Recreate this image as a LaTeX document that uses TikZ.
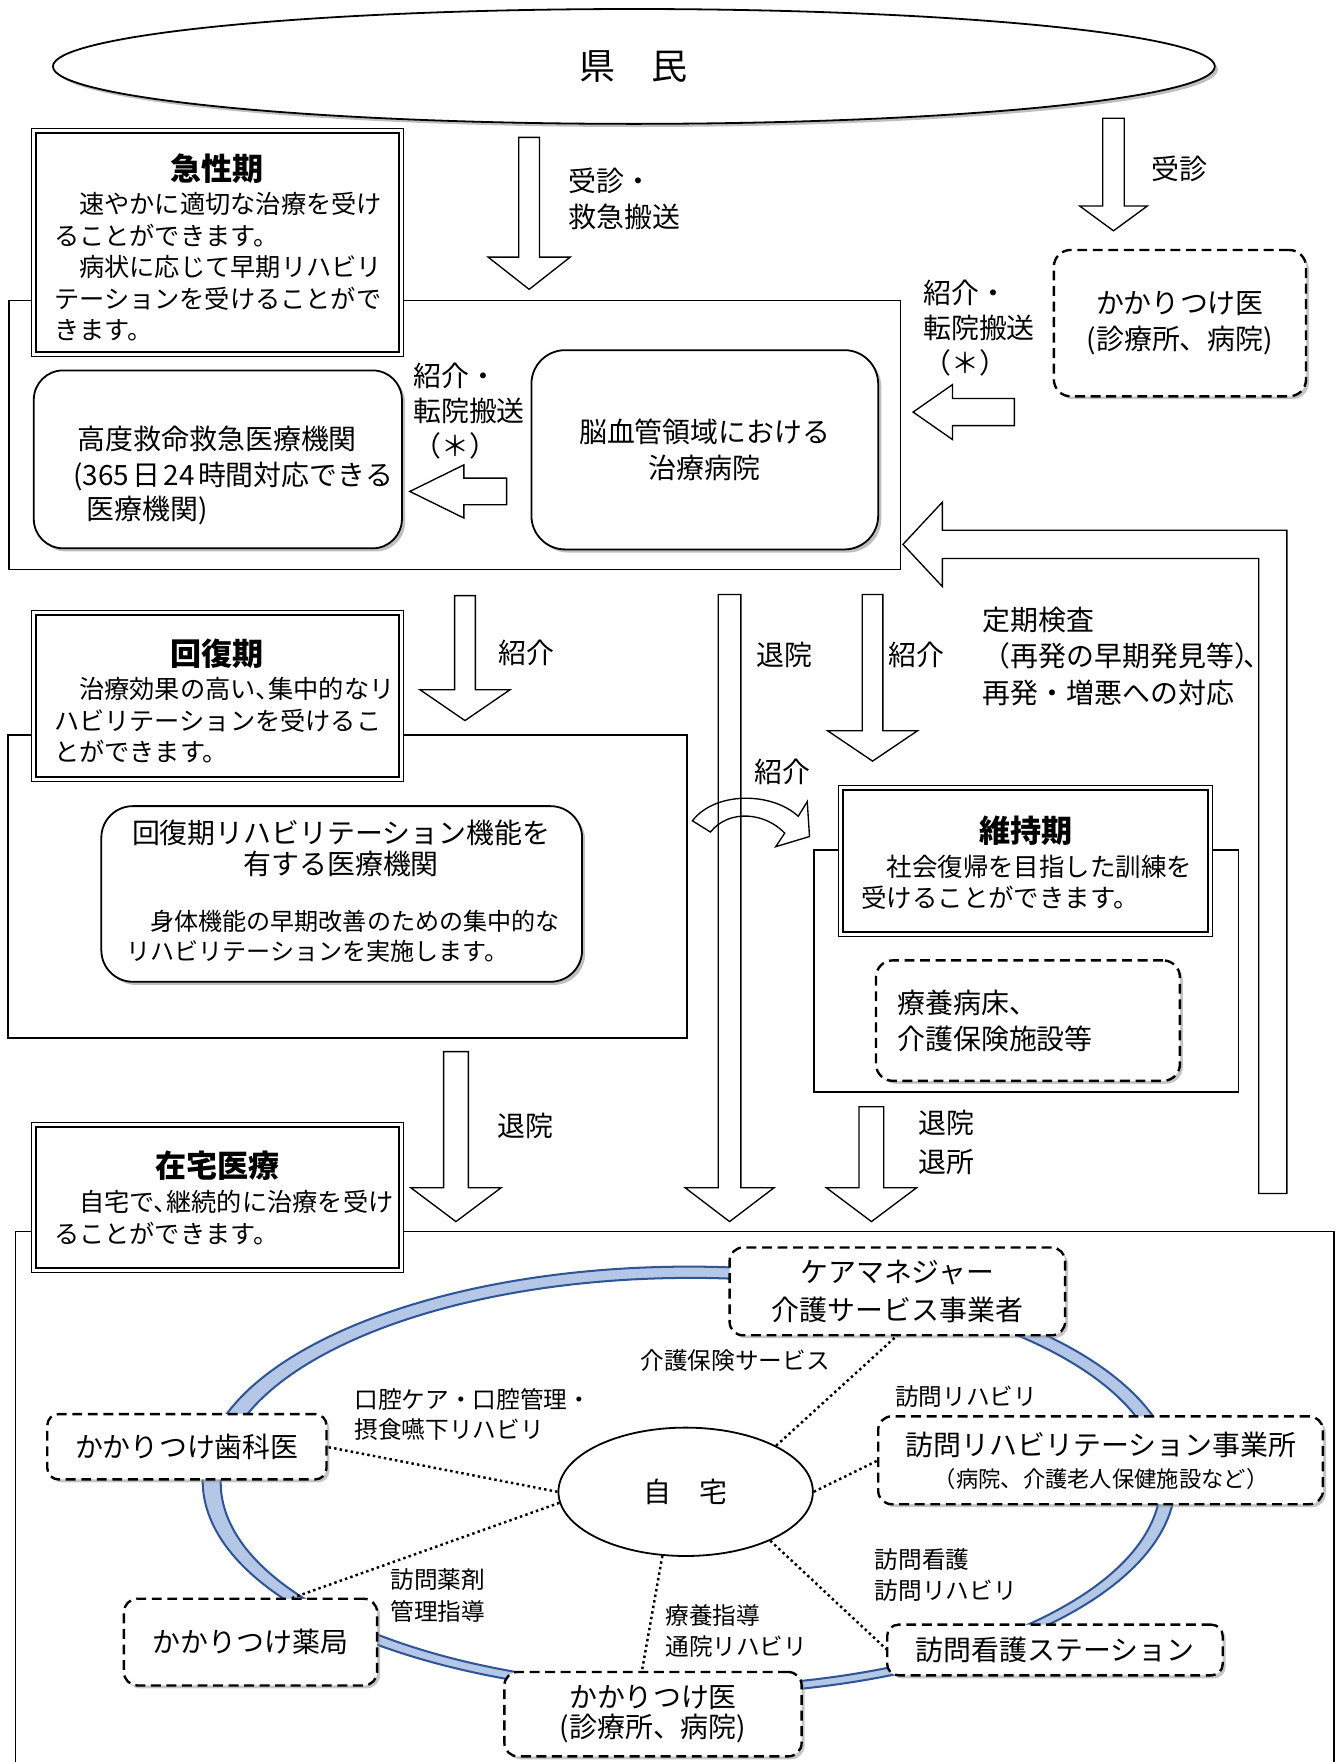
\documentclass[tikz,border=0pt]{standalone}
\usepackage{fontspec}
\setmainfont{Noto Sans CJK JP}
\usetikzlibrary{shapes.geometric,shadows,calc}
\definecolor{ringedge}{HTML}{2F5597}
\definecolor{ringfill}{HTML}{B4C7E7}
\newcommand\fs[2]{\fontsize{#1}{#2}\selectfont}
\newcommand\innerline[1]{\draw[line width=0.9pt] ([shift={(2pt,-2pt)}]#1.north west) rectangle ([shift={(-2pt,2pt)}]#1.south east);}
% down block arrow: #1 tail, #2 tip, #3 shaft half width, #4 head half width, #5 head length
\newcommand\downblock[5]{\draw[blockarrow] let \p1=(#1), \p2=(#2) in
  (\x2-#3,\y1) -- (\x2-#3,\y2+#5) -- (\x2-#4,\y2+#5) -- (\x2,\y2) -- (\x2+#4,\y2+#5) -- (\x2+#3,\y2+#5) -- (\x2+#3,\y1) -- cycle;}
\newcommand\leftblock[5]{\draw[blockarrow] let \p1=(#1), \p2=(#2) in
  (\x1,\y2+#3) -- (\x2+#5,\y2+#3) -- (\x2+#5,\y2+#4) -- (\x2,\y2) -- (\x2+#5,\y2-#4) -- (\x2+#5,\y2-#3) -- (\x1,\y2-#3) -- cycle;}
\begin{document}
\begin{tikzpicture}[x=0.5pt,y=-0.5pt,
  frame/.style={draw, line width=0.65pt, rectangle, inner sep=0pt, outer sep=0pt},
  phase/.style={draw, line width=0.45pt, fill=white, rectangle, inner sep=0pt, outer sep=0pt},
  rbox/.style={draw, line width=0.8pt, fill=white, rounded corners=#1, inner sep=0pt, outer sep=0pt,
    drop shadow={shadow xshift=1.4pt,shadow yshift=-1.4pt,fill=black!50}},
  rbox/.default=10pt,
  dbox/.style={draw, line width=1.05pt, dash pattern=on 4.4pt off 2.5pt, fill=white, rounded corners=#1,
    inner sep=0pt, outer sep=0pt, drop shadow={shadow xshift=1.3pt,shadow yshift=-1.3pt,fill=black!45}},
  dbox/.default=6pt,
  lab/.style={inner sep=0pt, outer sep=0pt, font=\fs{12.4pt}{16pt}},
  labw/.style={inner sep=0pt, outer sep=0pt, align=left, anchor=west, font=\fs{12.4pt}{16pt}},
  desc/.style={inner sep=0pt, outer sep=0pt, align=left, anchor=west, font=\fs{11.2pt}{14pt}},
  small/.style={inner sep=0pt, outer sep=0pt, align=left, anchor=west, font=\fs{10.5pt}{13.5pt}},
  ttl/.style={inner sep=0pt, outer sep=0pt, font=\fs{13.8pt}{16pt}\bfseries},
  blockarrow/.style={draw, line width=0.6pt, fill=white, line join=miter},
  dotline/.style={line width=1.1pt, dash pattern=on 1.1pt off 1.4pt},
]
\useasboundingbox (0,0) rectangle (1190,1565);
\fill[white] (0,0) rectangle (1190,1565);

% ---------- frames ----------
\node[frame, minimum width=396pt, minimum height=119.5pt] (acuteframe) at (404,386.5) {};
\node[frame, minimum width=301.5pt, minimum height=134.5pt] (recovframe) at (308.5,787.5) {};
\node[frame, minimum width=188.5pt, minimum height=107.5pt] (maintframe) at (911.5,862.5) {};
\node[frame, minimum width=585.5pt, minimum height=243pt] (homeframe) at (599.5,1337) {};

% ---------- top ellipse ----------
\node[draw, ellipse, line width=0.8pt, fill=white, minimum width=516pt, minimum height=51pt, inner sep=0pt,
  drop shadow={shadow xshift=1.4pt,shadow yshift=-1.4pt,fill=black!50}, font=\fs{16pt}{18pt}] (kenmin) at (563,59) {県　民};

% ---------- arrow coordinates ----------
\coordinate (a1t) at (470,122); \coordinate (a1h) at (470,257);
\coordinate (a2t) at (989,105); \coordinate (a2h) at (989,205);
\coordinate (a3t) at (413,529); \coordinate (a3h) at (413,640);
\coordinate (a4t) at (648,528); \coordinate (a4h) at (648,1085);
\coordinate (a5t) at (775,528); \coordinate (a5h) at (775,676);
\coordinate (a6t) at (405,934); \coordinate (a6h) at (405,1085);
\coordinate (a7t) at (774,983); \coordinate (a7h) at (774,1085);
\coordinate (a8t) at (901,366); \coordinate (a8h) at (811,366);
\coordinate (a9t) at (450,436.5); \coordinate (a9h) at (364,436.5);
\coordinate (rtip) at (802,483.5);

\downblock{a1t}{a1h}{4.6pt}{18.2pt}{14.3pt}
\downblock{a2t}{a2h}{4.8pt}{15pt}{11pt}
\downblock{a3t}{a3h}{4.6pt}{20pt}{13.7pt}
\downblock{a4t}{a4h}{5pt}{19.7pt}{15pt}
\downblock{a5t}{a5h}{4.6pt}{20pt}{13.5pt}
\downblock{a6t}{a6h}{5.5pt}{20pt}{15pt}
\downblock{a7t}{a7h}{5.5pt}{20pt}{15pt}
\leftblock{a8t}{a8h}{6pt}{12.2pt}{17.5pt}
\leftblock{a9t}{a9h}{5.9pt}{11.8pt}{24pt}
% return arrow
\draw[blockarrow] (1143,1060) -- (1143,471) -- (837,471) -- (837,446) -- (rtip) -- (837,521) -- (837,496) -- (1118,496) -- (1118,1060) -- cycle;
% curved arrow
\draw[line width=0.6pt, line join=miter] (615,729) .. controls (635,703) and (685,703) .. (709,725) -- (717,712) -- (719,743) -- (689,752) -- (697,740) .. controls (680,722) and (648,718) .. (631,739) -- cycle;

% ---------- top right ----------
\node[labw] (l1) at (505,176.5) {受診・\\救急搬送};
\node[lab, anchor=west] (l2) at (1023,150) {受診};
\node[dbox=7.5pt, minimum width=112pt, minimum height=65pt, font=\fs{12.4pt}{16pt}, align=center] (kdoc) at (1048,287) {かかりつけ医\\(診療所、病院)};
\node[labw, font=\fs{12.4pt}{15.5pt}] (l3) at (820,291.5) {紹介・\\転院搬送\\（＊）};

% ---------- acute ----------
\node[phase, minimum width=165pt, minimum height=101.5pt] (acute) at (193,215.5) {};
\innerline{acute}
\node[ttl] (acutet) at (193,150) {急性期};
\node[desc] (acuted) at (48,237) {　速やかに適切な治療を受け\\ることができます。\\　病状に応じて早期リハビリ\\テーションを受けることがで\\きます。};

\node[rbox=13pt, minimum width=163.5pt, minimum height=79pt] (adv) at (193.5,408) {};
\node[lab] (advt1) at (193,390) {高度救命救急医療機関};
\node[lab, anchor=west] (advt2) at (65,423) {(365\hspace{0.12em}日\hspace{0.12em}24\hspace{0.12em}時間対応できる};
\node[lab, anchor=west] (advt3) at (77,453) {医療機関)};
\node[labw, font=\fs{12.4pt}{15.5pt}] (l4) at (367,365) {紹介・\\転院搬送\\（＊）};

\node[rbox=15pt, minimum width=154pt, minimum height=88.5pt, font=\fs{12.4pt}{16pt}, align=center] (stroke) at (626,399.5) {脳血管領域における\\治療病院};

% ---------- recovery ----------
\node[phase, minimum width=165pt, minimum height=76pt] (recov) at (193,618) {};
\innerline{recov}
\node[ttl] (recovt) at (193,581) {回復期};
\node[desc] (recovd) at (48,640) {　治療効果の高い、\hspace{-0.5em}集中的なリ\\ハビリテーションを受けるこ\\とができます。};
\node[rbox=14pt, minimum width=213.5pt, minimum height=78pt] (recreha) at (303.5,794) {};
\node[lab, align=center, font=\fs{12.4pt}{13.5pt}] (rrt1) at (303,753.5) {回復期リハビリテーション機能を\\有する医療機関};
\node[small, font=\fs{10.7pt}{13.5pt}] (rrt2) at (112,831.5) {　身体機能の早期改善のための集中的な\\リハビリテーションを実施します。};

\node[lab, anchor=west] (l5) at (443,580) {紹介};
\node[lab, anchor=west] (l6) at (672,582) {退院};
\node[lab, anchor=west] (l7) at (789,582) {紹介};
\node[lab, anchor=west] (l8) at (670,686) {紹介};
\node[labw, font=\fs{12.4pt}{16.25pt}] (l9) at (873,582.7) {定期検査\\（再発の早期発見等）\hspace{-0.65em}、\\再発・増悪への対応};

% ---------- maintenance ----------
\node[phase, minimum width=166pt, minimum height=67pt] (maint) at (911,765) {};
\innerline{maint}
\node[ttl] (maintt) at (911,738) {維持期};
\node[desc, font=\fs{11.3pt}{13.5pt}] (maintd) at (765,783.5) {　社会復帰を目指した訓練を\\受けることができます。};
\node[dbox=7.5pt, minimum width=135pt, minimum height=53.5pt] (ryoyo) at (913,906.5) {};
\node[labw] (ryoyot) at (797,907) {療養病床、\\介護保険施設等};

\node[lab, anchor=west] (l10) at (442,1000) {退院};
\node[labw, font=\fs{12.4pt}{17.5pt}] (l11) at (816,1014.5) {退院\\退所};

% ---------- home care ----------
\node[phase, minimum width=165pt, minimum height=66.5pt] (homecare) at (193,1063.5) {};
\innerline{homecare}
\node[ttl] (homecaret) at (193,1035) {在宅医療};
\node[desc, font=\fs{11.2pt}{14.5pt}] (homecared) at (48,1081.5) {　自宅で、\hspace{-0.5em}継続的に治療を受け\\ることができます。};

% ring
\fill[ringfill, even odd rule] (612,1315) ellipse [x radius=216pt, y radius=95pt]
  (613.5,1316.5) ellipse [x radius=208.75pt, y radius=90.75pt];
\draw[ringedge, line width=0.9pt] (612,1315) ellipse [x radius=216pt, y radius=95pt];
\draw[ringedge, line width=0.9pt] (613.5,1316.5) ellipse [x radius=208.75pt, y radius=90.75pt];

% nodes
\node[draw, ellipse, line width=0.8pt, fill=white, minimum width=113pt, minimum height=57pt, inner sep=0pt, font=\fs{12.4pt}{16pt}] (home) at (609,1325) {自　宅};
\node[dbox=6pt, minimum width=149pt, minimum height=39pt, font=\fs{12.4pt}{16.5pt}, align=center] (care) at (797,1147) {ケアマネジャー\\介護サービス事業者};
\node[dbox=5pt, minimum width=124pt, minimum height=29pt, font=\fs{12.4pt}{16pt}] (dental) at (166,1285) {かかりつけ歯科医};
\node[dbox=6pt, minimum width=197.5pt, minimum height=39pt] (rehab) at (977.5,1297) {};
\node[lab] (rh1) at (978,1283) {訪問リハビリテーション事業所};
\node[lab, font=\fs{9.9pt}{12pt}] (rh2) at (978,1314) {（病院、介護老人保健施設など）};
\node[dbox=6pt, minimum width=112.5pt, minimum height=38.5pt, font=\fs{12.4pt}{16pt}] (pharm) at (222.5,1458.5) {かかりつけ薬局};
\node[dbox=6pt, minimum width=132pt, minimum height=37.5pt, font=\fs{12.4pt}{13.5pt}, align=center] (doc2) at (580,1522.5) {かかりつけ医\\(診療所、病院)};
\node[dbox=5pt, minimum width=149pt, minimum height=22.5pt, font=\fs{12.4pt}{16pt}] (nurse) at (937,1465.5) {訪問看護ステーション};

% dotted links
\draw[dotline] (home.27) -- (care.south);
\draw[dotline] (home.east) -- (rehab.west);
\draw[dotline] (home.-30) -- (nurse.west);
\draw[dotline] (home.-110) -- ([xshift=-5pt]doc2.north);
\draw[dotline] (home.west) -- (dental.east);
\draw[dotline] (home.185) -- ([xshift=17.5pt]pharm.north);

% labels
\node[small] (b1) at (569,1208) {介護保険サービス};
\node[small] (b2) at (315,1256.5) {口腔ケア・口腔管理・\\摂食嚥下リハビリ};
\node[small] (b3) at (795,1240) {訪問リハビリ};
\node[small, font=\fs{10.5pt}{14pt}] (b4) at (347,1417) {訪問薬剤\\管理指導};
\node[small, font=\fs{10.5pt}{14pt}] (b5) at (777,1399) {訪問看護\\訪問リハビリ};
\node[small] (b6) at (591,1448.5) {療養指導\\通院リハビリ};
\end{tikzpicture}
\end{document}
